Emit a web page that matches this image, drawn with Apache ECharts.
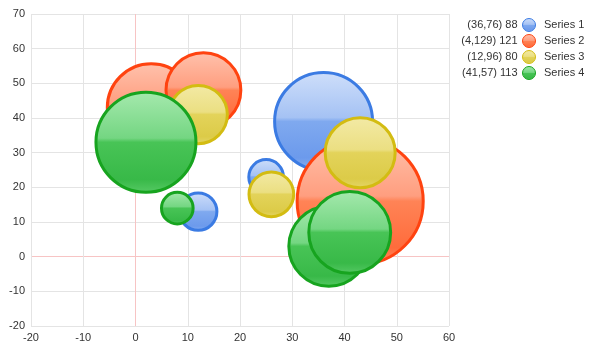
<!DOCTYPE html>
<html>
<head>
<meta charset="utf-8">
<script src="https://cdn.jsdelivr.net/npm/echarts@6/dist/echarts.min.js"></script>
<style>
  html, body { margin: 0; padding: 0; background: #fff; }
  #chart { width: 591px; height: 351px; }
</style>
</head>
<body>
<div id="chart"></div>
<script>
const seriesNames = ["Series 1", "Series 2", "Series 3", "Series 4"];
const legendPrefixes = ["(36,76) 88", "(4,129) 121", "(12,96) 80", "(41,57) 113"];

// [x, y, size]
const series1 = [[36, 39, 96], [25, 23, 12], [12, 13, 14]];
const series2 = [[3, 43, 77], [13, 48, 56], [43, 16, 159]];
const series3 = [[12, 41, 34], [43, 30, 49], [26, 18, 20]];
const series4 = [[2, 33, 100], [8, 14, 10], [37, 3, 64], [41, 7, 67]];

const xTicks = [-20, -10, 0, 10, 20, 30, 40, 50, 60];
const yTicks = [-20, -10, 0, 10, 20, 30, 40, 50, 60, 70];

const palettes = [
  { stops: ["#cfdffa", "#a5c2f4", "#7fa9ef", "#6c9aec", "#8cb2f1"], border: "#3b7be3" },
  { stops: ["#ffc2ad", "#ff9e7f", "#ff8356", "#ff6c3c", "#ff8a62"], border: "#ff4310" },
  { stops: ["#f3eaa6", "#ebdf82", "#e3d35a", "#dccb48", "#e5d76c"], border: "#d3bc12" },
  { stops: ["#a6e9ae", "#74d682", "#48c456", "#38b948", "#58ca66"], border: "#17a41f" }
];

function gloss(p) {
  return new echarts.graphic.LinearGradient(0, 0, 0, 1, [
    { offset: 0, color: p.stops[0] },
    { offset: 0.46, color: p.stops[1] },
    { offset: 0.5, color: p.stops[2] },
    { offset: 0.86, color: p.stops[3] },
    { offset: 1, color: p.stops[4] }
  ]);
}

const chart = echarts.init(document.getElementById("chart"));

const gridColor = "#e4e4e4";
const zeroColor = "#f7c4c4";

const allData = [series1, series2, series3, series4];

const option = {
  animation: false,
  textStyle: { fontFamily: "Liberation Sans, Arial, sans-serif" },
  grid: { left: 31, right: 142, top: 14, bottom: 25, containLabel: false },
  xAxis: {
    type: "value",
    min: xTicks[0],
    max: xTicks[xTicks.length - 1],
    interval: 10,
    axisLine: { show: false },
    axisTick: { show: false },
    axisLabel: { color: "#333", fontSize: 11, margin: 6 },
    splitLine: {
      lineStyle: { color: xTicks.map(v => (v === 0 ? zeroColor : gridColor)), width: 1 }
    }
  },
  yAxis: {
    type: "value",
    min: yTicks[0],
    max: yTicks[yTicks.length - 1],
    interval: 10,
    axisLine: { show: false },
    axisTick: { show: false },
    axisLabel: { color: "#333", fontSize: 11, margin: 6 },
    splitLine: {
      lineStyle: { color: yTicks.map(v => (v === 0 ? zeroColor : gridColor)), width: 1 }
    }
  },
  legend: [
    {
      data: seriesNames,
      orient: "vertical",
      right: 55,
      top: 18,
      padding: 0,
      align: "right",
      itemWidth: 13,
      itemHeight: 13,
      itemGap: 2,
      icon: "circle",
      itemStyle: { borderWidth: 1 },
      textStyle: { fontSize: 11, color: "#333", lineHeight: 13 },
      formatter: name => legendPrefixes[seriesNames.indexOf(name)]
    },
    {
      data: seriesNames,
      orient: "vertical",
      left: 539,
      top: 18,
      padding: 0,
      itemWidth: 0,
      itemHeight: 13,
      itemGap: 3,
      icon: "none",
      textStyle: { fontSize: 11, color: "#333", lineHeight: 13 }
    }
  ],
  series: allData.map((d, i) => ({
    name: seriesNames[i],
    type: "scatter",
    data: d,
    symbol: "circle",
    symbolSize: val => 10 * Math.sqrt(val[2]),
    itemStyle: {
      color: gloss(palettes[i]),
      borderColor: palettes[i].border,
      borderWidth: 3,
      opacity: 1
    },
    emphasis: { scale: false }
  }))
};

chart.setOption(option);
</script>
</body>
</html>
